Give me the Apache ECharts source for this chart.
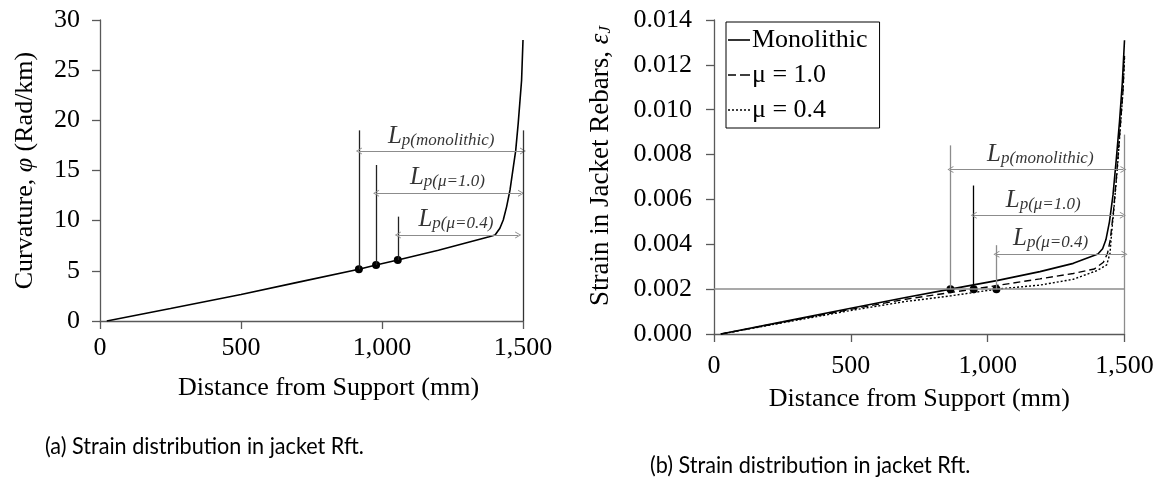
<!DOCTYPE html>
<html>
<head>
<meta charset="utf-8">
<script src="https://cdn.jsdelivr.net/npm/echarts@6/dist/echarts.min.js"></script>
<style>
  html, body { margin: 0; padding: 0; background: #fff; }
  #chart { width: 1165px; height: 497px; }
</style>
</head>
<body>
<div id="chart"></div>
<script>
// ---- (a) curvature along the span ----
const curvDist = [24, 250, 500, 700, 918, 979, 1056, 1200, 1300, 1380, 1401, 1418, 1430, 1442, 1454, 1466, 1474, 1483, 1495, 1500];
const curvVal = [0, 1.25, 2.65, 3.85, 5.15, 5.58, 6.08, 7.05, 7.8, 8.4, 8.57, 9.24, 10.07, 11.4, 13.06, 15.4, 16.95, 19.7, 24.0, 28.0];

// ---- (b) strain in jacket rebars ----
const monoDist = [25, 250, 500, 700, 864, 1033, 1191, 1313, 1403, 1420, 1432, 1445, 1458, 1470, 1482, 1492, 1500];
const monoStrain = [0, 0.00054, 0.00115, 0.00163, 0.002, 0.00238, 0.00278, 0.00315, 0.00357, 0.0038, 0.0042, 0.005, 0.0062, 0.0078, 0.0095, 0.0112, 0.0131];
const mu10Dist = [25, 250, 500, 700, 864, 949, 1033, 1191, 1313, 1390, 1423, 1438, 1448, 1460, 1472, 1484, 1494, 1500];
const mu10Strain = [0, 0.00052, 0.0011, 0.00155, 0.00185, 0.002, 0.00216, 0.00246, 0.0027, 0.0029, 0.0032, 0.0036, 0.0042, 0.0055, 0.0072, 0.0092, 0.0108, 0.0124];
const mu04Dist = [25, 250, 500, 700, 864, 1033, 1191, 1313, 1398, 1435, 1447, 1453, 1462, 1474, 1486, 1495, 1500];
const mu04Strain = [0, 0.0005, 0.00105, 0.00145, 0.0017, 0.002, 0.00218, 0.00244, 0.00282, 0.00308, 0.0036, 0.0045, 0.0057, 0.0074, 0.0094, 0.0109, 0.0123];

const seriesNames = ["Monolithic", "μ = 1.0", "μ = 0.4"];
const lpTags = ["monolithic", "μ=1.0", "μ=0.4"];

// plastic hinge annotations (a)
const aStemX = [918, 979, 1056];
const aStemBase = [5.15, 5.58, 6.08];
const aStemTop = [19.0, 15.55, 10.4];
const aArrowY = [16.95, 12.73, 8.57];
const aArrowEnd = [1500, 1493, 1483];
const aLabelAt = [[1021, 18.4], [1099, 14.3], [1129, 10.1]];
const aEndTop = 19.0;

// plastic hinge annotations (b)
const yieldStrain = 0.002;
const bStemX = [864, 949, 1032];
const bStemTop = [0.00841, 0.00662, 0.00396];
const bArrowY = [0.00733, 0.00529, 0.00356];
const bArrowEnd = [1496, 1494, 1500];
const bLabelAt = [[998, 0.008], [1066, 0.00594], [1093, 0.00425]];
const bEndTop = 0.00889;

const xTicks = { min: 0, max: 1500, interval: 500 };

const zip = (xs, ys) => xs.map((x, i) => [x, ys[i]]);

const FONT = "Liberation Serif";
const AXIS = "#595959";
const GREY = "#8c8c8c";
const chevron = "path://M0,10 L5,0 L10,10 L8.6,10 L5,2.6 L1.4,10 Z";

// legend line samples
const legendIcons = [
  "path://M0,0H22V1.6H0Z",
  "path://M0,0H8V1.4H0Z M12,0H22V1.4H12Z",
  "path://M0,0H2V1.4H0Z M4,0H6V1.4H4Z M8,0H10V1.4H8Z M12,0H14V1.4H12Z M16,0H18V1.4H16Z M20,0H22V1.4H20Z",
];

const lpRich = {
  L: { fontFamily: FONT, fontStyle: "italic", fontSize: 25, lineHeight: 25, verticalAlign: "top", color: "#000" },
  s: { fontFamily: FONT, fontStyle: "italic", fontSize: 17, lineHeight: 17, verticalAlign: "bottom", padding: [11, 0, 0, 0], color: "#000" },
};

function xAxisOf(gridIndex, nameGap, namePad, labelMargin) {
  return {
    type: "value",
    gridIndex,
    ...xTicks,
    name: "Distance from Support (mm)",
    nameLocation: "middle",
    nameGap,
    nameTextStyle: { fontFamily: FONT, fontSize: 26, color: "#000", padding: namePad },
    axisLine: { show: true, onZero: false, lineStyle: { color: AXIS, width: 1.3 } },
    axisTick: { show: true, length: 8, lineStyle: { color: AXIS, width: 1.3 } },
    axisLabel: {
      fontFamily: FONT, fontSize: 26, color: "#000", margin: labelMargin,
      formatter: (v) => v.toLocaleString("en-US"),
    },
    splitLine: { show: false },
  };
}

function hingeMarks(stemX, stemBase, stemTop, arrowY, arrowEnd, endTop, stemColors) {
  const data = [];
  stemX.forEach((x, i) => {
    data.push([
      { coord: [x, stemBase[i]], lineStyle: { color: stemColors[i], width: 1.3, type: "solid" }, symbol: "none" },
      { coord: [x, stemTop[i]], symbol: "none" },
    ]);
    data.push([
      { coord: [x, arrowY[i]], lineStyle: { color: GREY, width: 1.1, type: "solid" } },
      { coord: [arrowEnd[i], arrowY[i]] },
    ]);
  });
  data.push([
    { coord: [1500, 0], lineStyle: { color: stemColors[3], width: 1.3, type: "solid" }, symbol: "none" },
    { coord: [1500, endTop], symbol: "none" },
  ]);
  return data;
}

function lpLabels(at, gridIndex) {
  return {
    type: "scatter",
    xAxisIndex: gridIndex,
    yAxisIndex: gridIndex,
    silent: true,
    symbolSize: 0,
    data: at.map((p, i) => ({ value: p, name: lpTags[i] })),
    label: {
      show: true,
      position: "right",
      distance: 0,
      formatter: (p) => "{L|L}{s|p(" + p.name + ")}",
      rich: lpRich,
    },
    z: 5,
  };
}

const chart = echarts.init(document.getElementById("chart"), null, { renderer: "canvas" });

const option = {
  animation: false,
  backgroundColor: "#fff",
  textStyle: { fontFamily: FONT, color: "#000" },
  grid: [
    { left: 100, top: 20, width: 423, height: 301 },
    { left: 714, top: 20, width: 410.5, height: 314 },
  ],
  legend: {
    data: seriesNames.map((name, i) => ({ name, icon: legendIcons[i] })),
    orient: "vertical",
    left: 726,
    top: 22,
    itemWidth: 22,
    itemHeight: 14,
    itemGap: 9,
    padding: [5, 12, 5, 2],
    borderColor: "#000",
    borderWidth: 1,
    itemStyle: { color: "#000" },
    textStyle: { fontFamily: FONT, fontSize: 26, color: "#000", padding: [0, 0, 0, -3] },
    selectedMode: false,
  },
  xAxis: [
    xAxisOf(0, 54, [0, 0, 0, 34], 14),
    xAxisOf(1, 52, [0, 0, 0, 0], 19),
  ],
  yAxis: [
    {
      type: "value",
      gridIndex: 0,
      min: 0, max: 30, interval: 5,
      name: "Curvature, {i|φ} (Rad/km)",
      nameLocation: "middle",
      nameGap: 62,
      nameTextStyle: {
        fontFamily: FONT, fontSize: 26, color: "#000",
        rich: { i: { fontFamily: FONT, fontSize: 26, fontStyle: "italic", color: "#000" } },
      },
      axisLine: { show: true, lineStyle: { color: AXIS, width: 1.3 } },
      axisTick: { show: true, length: 8, lineStyle: { color: AXIS, width: 1.3 } },
      axisLabel: { fontFamily: FONT, fontSize: 26, color: "#000", margin: 20 },
      splitLine: { show: false },
    },
    {
      type: "value",
      gridIndex: 1,
      min: 0, max: 0.014, interval: 0.002,
      name: "{b|Strain in Jacket Rebars, }{e|ε}{j|J}",
      nameLocation: "middle",
      nameGap: 100,
      nameTextStyle: {
        fontFamily: FONT, fontSize: 27, color: "#000",
        padding: [0, 0, 0, 22],
        rich: {
          b: { fontFamily: FONT, fontSize: 27, lineHeight: 27, verticalAlign: "top", color: "#000" },
          e: { fontFamily: FONT, fontSize: 27, lineHeight: 27, fontStyle: "italic", verticalAlign: "top", color: "#000" },
          j: { fontFamily: FONT, fontSize: 17, lineHeight: 17, fontStyle: "italic", verticalAlign: "bottom", padding: [10, 0, 0, 0], color: "#000" },
        },
      },
      axisLine: { show: true, lineStyle: { color: AXIS, width: 1.3 } },
      axisTick: { show: true, length: 8, lineStyle: { color: AXIS, width: 1.3 } },
      axisLabel: { fontFamily: FONT, fontSize: 26, color: "#000", margin: 22, formatter: (v) => v.toFixed(3) },
      splitLine: { show: false },
    },
  ],
  series: [
    // (a)
    {
      type: "line",
      name: "curvature",
      xAxisIndex: 0, yAxisIndex: 0,
      data: zip(curvDist, curvVal),
      symbol: "none",
      itemStyle: { color: "#000" },
      lineStyle: { color: "#000", width: 1.6 },
      z: 3,
    },
    {
      type: "scatter",
      name: "dotsA",
      xAxisIndex: 0, yAxisIndex: 0,
      data: zip(aStemX, aStemBase),
      symbolSize: 8,
      itemStyle: { color: "#000", opacity: 1 },
      silent: true,
      z: 4,
      markLine: {
        silent: true,
        symbol: [chevron, chevron],
        symbolSize: [7, 6],
        label: { show: false },
        emphasis: { disabled: true },
        data: hingeMarks(aStemX, aStemBase, aStemTop, aArrowY, aArrowEnd, aEndTop, ["#222", "#222", "#222", "#333"]),
      },
    },
    lpLabels(aLabelAt, 0),
    // (b)
    {
      type: "line",
      name: seriesNames[0],
      xAxisIndex: 1, yAxisIndex: 1,
      data: zip(monoDist, monoStrain),
      symbol: "none",
      itemStyle: { color: "#000" },
      lineStyle: { color: "#000", width: 1.6 },
      z: 3,
    },
    {
      type: "line",
      name: seriesNames[1],
      xAxisIndex: 1, yAxisIndex: 1,
      data: zip(mu10Dist, mu10Strain),
      symbol: "none",
      itemStyle: { color: "#000" },
      lineStyle: { color: "#000", width: 1.4, type: [7, 4] },
      z: 3,
    },
    {
      type: "line",
      name: seriesNames[2],
      xAxisIndex: 1, yAxisIndex: 1,
      data: zip(mu04Dist, mu04Strain),
      symbol: "none",
      itemStyle: { color: "#000" },
      lineStyle: { color: "#000", width: 1.4, type: [2, 2] },
      z: 3,
    },
    {
      type: "scatter",
      name: "dotsB",
      xAxisIndex: 1, yAxisIndex: 1,
      data: bStemX.map((x) => [x, yieldStrain]),
      symbolSize: 8,
      itemStyle: { color: "#000", opacity: 1 },
      silent: true,
      z: 4,
      markLine: {
        silent: true,
        symbol: [chevron, chevron],
        symbolSize: [7, 6],
        label: { show: false },
        emphasis: { disabled: true },
        data: hingeMarks(bStemX, bStemX.map(() => yieldStrain), bStemTop, bArrowY, bArrowEnd, bEndTop, [GREY, "#000", GREY, GREY]).concat([
          [
            { coord: [0, yieldStrain], lineStyle: { color: GREY, width: 1.5, type: "solid" }, symbol: "none" },
            { coord: [1500, yieldStrain], symbol: "none" },
          ],
        ]),
      },
    },
    lpLabels(bLabelAt, 1),
  ],
  graphic: [
    { type: "text", x: 45, y: 434, scaleX: 0.9, style: { text: "(a) Strain distribution in jacket Rft.", font: "24px Lato", fill: "#000" } },
    { type: "text", x: 650, y: 453, scaleX: 0.9, style: { text: "(b) Strain distribution in jacket Rft.", font: "24px Lato", fill: "#000" } },
  ],
};

chart.setOption(option);
window.addEventListener("resize", () => chart.resize());
</script>
</body>
</html>
